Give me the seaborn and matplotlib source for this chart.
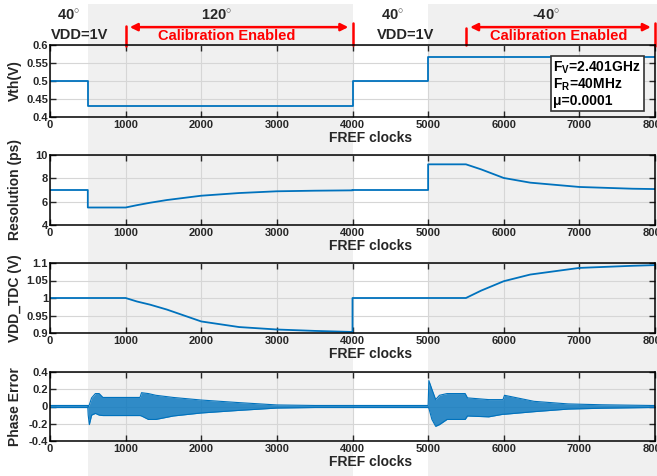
import numpy as np
import pandas as pd
import matplotlib
matplotlib.use("Agg")
import matplotlib.pyplot as plt
import matplotlib.ticker as ticker
from matplotlib.patches import Rectangle
from matplotlib.transforms import blended_transform_factory
import seaborn as sns

sns.set_style("ticks")
plt.rcParams["font.family"] = ["Liberation Sans", "DejaVu Sans"]
plt.rcParams["font.weight"] = "bold"
plt.rcParams["mathtext.fontset"] = "custom"
plt.rcParams["mathtext.rm"] = "Liberation Sans:bold"
plt.rcParams["mathtext.bf"] = "Liberation Sans:bold"
plt.rcParams["mathtext.it"] = "Liberation Sans:bold"

BLUE = "#0072BD"
RED = "#FF0000"
TXT = "#262626"

# --- data ---
vth_x = [0, 500, 4000, 5000, 8000]
vth_y = [0.5, 0.43, 0.5, 0.567, 0.567]

res_x = [0, 500, 500, 1000, 1150, 1325, 1545, 2000, 2500, 3000, 3500, 4000, 4000,
         5000, 5000, 5500, 5700, 6000, 6350, 7000, 7700, 8000]
res_y = [7.0, 7.0, 5.5, 5.5, 5.7, 5.91, 6.14, 6.51, 6.74, 6.89, 6.94, 6.97, 7.0,
         7.0, 9.2, 9.2, 8.77, 8.03, 7.63, 7.26, 7.11, 7.08]

vdd_x = [0, 1000, 1150, 1323, 1545, 2000, 2500, 3000, 3500, 4000, 4000,
         5500, 5700, 6000, 6350, 7000, 7700, 8000]
vdd_y = [1.0, 1.0, 0.99, 0.981, 0.967, 0.933, 0.917, 0.910, 0.906, 0.903, 1.0,
         1.0, 1.021, 1.048, 1.067, 1.086, 1.092, 1.094]

# phase error: envelope of the dense oscillation
pe_x = [0, 500, 505, 520, 550, 600, 650, 700, 1190, 1210, 1300, 1400, 1630, 2000,
        2500, 3000, 3500, 4000, 5000, 5010, 5050, 5100, 5150, 5250, 5490, 5520,
        5800, 5990, 6010, 6400, 6850, 7300, 7950, 8000]
pe_hi = [0.012, 0.012, 0.0, 0.02, 0.1, 0.15, 0.15, 0.105, 0.105, 0.16, 0.15, 0.13, 0.105, 0.075,
         0.045, 0.018, 0.012, 0.012, 0.012, 0.30, 0.2, 0.08, 0.13, 0.15, 0.15, 0.1,
         0.08, 0.08, 0.13, 0.06, 0.03, 0.02, 0.012, 0.012]
pe_lo = [-0.012, -0.012, -0.1, -0.21, -0.1, -0.08, -0.1, -0.105, -0.105, -0.11, -0.15, -0.15, -0.11, -0.075,
         -0.045, -0.018, -0.012, -0.012, -0.012, -0.02, -0.15, -0.23, -0.21, -0.15, -0.15, -0.11,
         -0.12, -0.09, -0.09, -0.06, -0.03, -0.02, -0.012, -0.012]

xticks = [0, 1000, 2000, 3000, 4000, 5000, 6000, 7000, 8000]

W, H = 657, 476
fig = plt.figure(figsize=(W / 100, H / 100), dpi=100, facecolor="white")

# axes boxes in pixels: (top, bottom)
boxes = [(45, 117), (155, 225), (263, 333), (372, 441)]
left_px, right_px = 50, 655
axes = []
for top, bot in boxes:
    ax = fig.add_axes([left_px / W, 1 - bot / H, (right_px - left_px) / W, (bot - top) / H])
    ax.set_facecolor("none")
    axes.append(ax)
ax1, ax2, ax3, ax4 = axes

sns.lineplot(x=vth_x, y=vth_y, ax=ax1, color=BLUE, lw=1.3, drawstyle="steps-post",
             estimator=None, sort=False)
sns.lineplot(x=res_x, y=res_y, ax=ax2, color=BLUE, lw=1.3, estimator=None, sort=False)
sns.lineplot(x=vdd_x, y=vdd_y, ax=ax3, color=BLUE, lw=1.3, estimator=None, sort=False)
ax4.fill_between(pe_x, pe_lo, pe_hi, color=BLUE, alpha=0.8, lw=0)
sns.lineplot(x=pe_x, y=pe_hi, ax=ax4, color=BLUE, lw=0.8, estimator=None, sort=False)
sns.lineplot(x=pe_x, y=pe_lo, ax=ax4, color=BLUE, lw=0.8, estimator=None, sort=False)

ylims = [(0.4, 0.6), (4, 10), (0.9, 1.1), (-0.4, 0.4)]
yticks = [[0.4, 0.45, 0.5, 0.55, 0.6], [4, 6, 8, 10], [0.9, 0.95, 1, 1.05, 1.1],
          [-0.4, -0.2, 0, 0.2, 0.4]]
ylabels = ["Vth(V)", "Resolution (ps)", "VDD_TDC (V)", "Phase Error"]

for ax, (top, bot), yl, yt, lab in zip(axes, boxes, ylims, yticks, ylabels):
    ax.set_xlim(0, 8000)
    ax.set_ylim(*yl)
    ax.set_xticks(xticks)
    ax.set_yticks(yt)
    ax.yaxis.set_major_formatter(ticker.FuncFormatter(lambda v, p: f"{v:g}"))
    ax.grid(True, color="#d6d6d6", lw=0.8)
    ax.set_axisbelow(True)
    ax.tick_params(direction="in", top=True, right=True, length=4, width=1,
                   labelsize=8, colors=TXT)
    ax.tick_params(axis="x", pad=2.5)
    ax.tick_params(axis="y", pad=1.5)
    for lbl in ax.get_xticklabels() + ax.get_yticklabels():
        lbl.set_fontweight("bold")
    for s in ax.spines.values():
        s.set_color("black")
        s.set_linewidth(1.1)
    ax.set_xlabel("FREF clocks", fontsize=10, fontweight="bold", color=TXT)
    ax.xaxis.set_label_coords(0.53, -14 / (bot - top))
    ax.set_ylabel(lab, fontsize=10, fontweight="bold", color=TXT)
    ax.yaxis.set_label_coords(-0.046, 0.5)

# gray shading behind everything (calibration regions)
trans = blended_transform_factory(ax1.transData, fig.transFigure)
for x0, x1 in [(500, 4000), (5000, 8100)]:
    fig.add_artist(Rectangle((x0, 0), x1 - x0, 0.992, transform=trans,
                             facecolor="#f0f0f0", edgecolor="none", zorder=-1))

# header annotations
hdr = dict(transform=trans, ha="center", va="center", fontsize=10.5, fontweight="bold",
           color=TXT)
ax1.text(250, 0.966, r"40$^{\circ}$", **hdr)
ax1.text(397, 0.926, "VDD=1V", **hdr)
ax1.text(2200, 0.966, r"120$^{\circ}$", **hdr)
ax1.text(4530, 0.966, r"40$^{\circ}$", **hdr)
ax1.text(4700, 0.926, "VDD=1V", **hdr)
ax1.text(6560, 0.966, r"-40$^{\circ}$", **hdr)
red = dict(hdr, color=RED)
ax1.text(2340, 0.924, "Calibration Enabled", **red)
ax1.text(6720, 0.924, "Calibration Enabled", **red)

for a, b in [(1000, 4000), (5500, 8000)]:
    ax1.annotate("", xy=(a, 0.943), xytext=(b, 0.943), xycoords=trans, textcoords=trans,
                 annotation_clip=False,
                 arrowprops=dict(arrowstyle="<|-|>", color=RED, lw=1.8, mutation_scale=11,
                                 shrinkA=3, shrinkB=3))
for xv, y0, y1 in [(1000, 0.903, 0.945), (4000, 0.905, 0.952),
                   (5500, 0.905, 0.941), (8000, 0.903, 0.952)]:
    ax1.plot([xv, xv], [y0, y1], transform=trans, color=RED, lw=1.8, clip_on=False)

ax1.text(0.832, 0.46, "F$_{V}$=2.401GHz\nF$_{R}$=40MHz\nμ=0.0001",
         transform=ax1.transAxes, ha="left", va="center", fontsize=10, fontweight="bold",
         color="black", linespacing=1.05,
         bbox=dict(facecolor="white", edgecolor="#333333", boxstyle="square,pad=0.2", lw=1.2))

fig.savefig("out.png", dpi=100)
